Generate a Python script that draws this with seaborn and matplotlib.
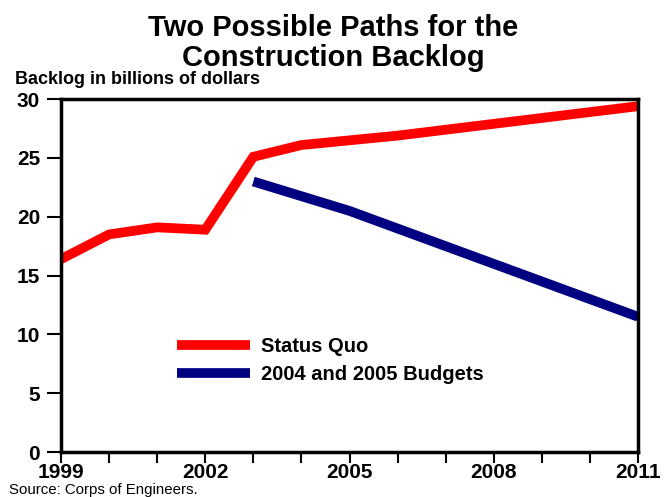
import matplotlib
matplotlib.use("Agg")
import matplotlib.pyplot as plt
import seaborn as sns
import pandas as pd

years_sq = [1999, 2000, 2001, 2002, 2003, 2004, 2005, 2006, 2007, 2008, 2009, 2010, 2011]
status_quo = [16.4, 18.5, 19.1, 18.9, 25.1, 26.1, 26.5, 26.9, 27.4, 27.9, 28.4, 28.9, 29.4]
years_bud = [2003, 2004, 2005, 2006, 2007, 2008, 2009, 2010, 2011]
budgets = [23.0, 21.75, 20.5, 19.0, 17.5, 16.0, 14.5, 13.0, 11.5]
labels = ["Status Quo", "2004 and 2005 Budgets"]
xticks = [1999, 2002, 2005, 2008, 2011]
yticks = [0, 5, 10, 15, 20, 25, 30]

df = pd.concat([
    pd.DataFrame({"year": years_sq, "value": status_quo, "series": labels[0]}),
    pd.DataFrame({"year": years_bud, "value": budgets, "series": labels[1]}),
])

sns.set_style("white")
plt.rcParams['font.family'] = ['Liberation Sans', 'DejaVu Sans']
plt.rcParams['text.color'] = 'black'
plt.rcParams['xtick.color'] = 'black'
plt.rcParams['ytick.color'] = 'black'
plt.rcParams['axes.labelcolor'] = 'black'

fig = plt.figure(figsize=(6.67, 4.97), dpi=100)
ax = fig.add_axes([0.0915, 0.0905, 0.865, 0.710])
sns.lineplot(data=df, x="year", y="value", hue="series",
             palette={labels[0]: "#ff0000", labels[1]: "#000080"},
             linewidth=7, ax=ax, legend=True)
for line in ax.get_lines():
    line.set_solid_capstyle("butt")
    line.set_solid_joinstyle("miter")

ax.set_xlim(1999, 2011)
ax.set_ylim(0, 30)
ax.set_xticks(range(1999, 2012))
ax.set_xticklabels([str(y) if y in xticks else "" for y in range(1999, 2012)])
ax.set_yticks(yticks)
ax.tick_params(axis="both", direction="out", width=1.5, color="black",
               labelsize=15, bottom=True, left=True, labelcolor="black")
ax.tick_params(axis="x", length=8, pad=0)
ax.tick_params(axis="y", length=10, pad=5)
for lab in ax.get_xticklabels() + ax.get_yticklabels():
    lab.set_fontweight("bold")
for s in ax.spines.values():
    s.set_linewidth(2.5)
    s.set_color("black")
ax.set_xlabel("")
ax.set_ylabel("")

leg = ax.legend(loc="lower left", bbox_to_anchor=(0.17, 0.14), frameon=False,
                handlelength=3.6, labelspacing=0.45, handletextpad=0.55,
                prop={"weight": "bold", "size": 14.5})
for h in leg.get_lines():
    h.set_linewidth(7)
for t in leg.get_texts():
    t.set_color("black")

fig.text(0.5, 0.972, "Two Possible Paths for the\nConstruction Backlog", ha="center",
         va="top", fontsize=21, fontweight="bold", linespacing=1.1, color="black")
fig.text(0.022, 0.822, "Backlog in billions of dollars", ha="left", va="bottom",
         fontsize=13, fontweight="bold", color="black")
fig.text(0.014, 0.0, "Source: Corps of Engineers.", ha="left", va="bottom",
         fontsize=10.8, color="black")

fig.savefig("out.png", dpi=100)
